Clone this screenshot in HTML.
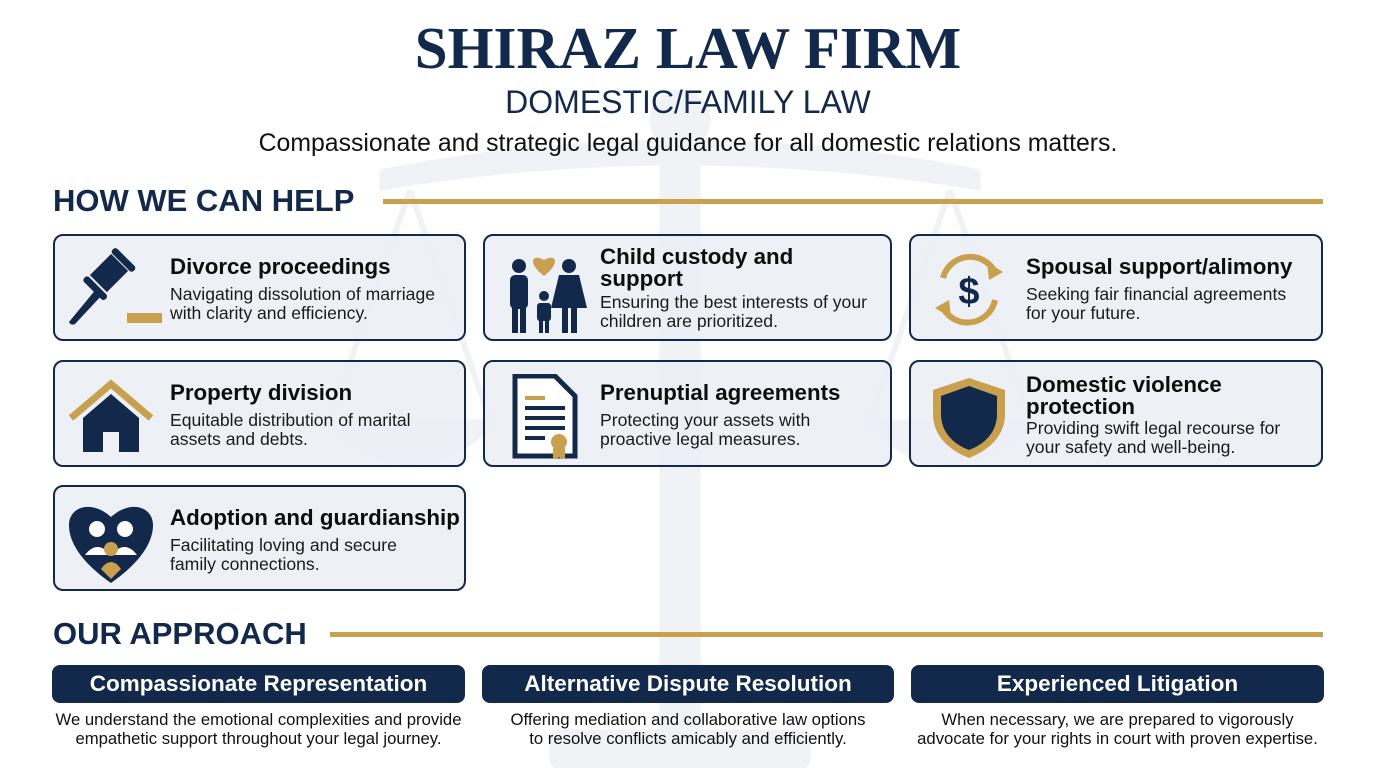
<!DOCTYPE html>
<html><head><meta charset="utf-8"><style>
*{margin:0;padding:0;box-sizing:border-box}
body{width:1376px;height:768px;background:#fff;position:relative;overflow:hidden;font-family:"Liberation Sans",Arial,sans-serif;color:#111}
.abs{position:absolute}
.card{position:absolute;border:2.5px solid #13294b;border-radius:10px;background:rgba(236,239,244,0.92)}
.card h3{position:absolute;left:115px;font-size:22.3px;font-weight:bold;color:#0d0d0d;line-height:22px;white-space:nowrap}
.card p{position:absolute;left:115px;font-size:17.6px;line-height:19px;color:#1a1a1a;white-space:nowrap}
.card svg{position:absolute;left:12px;top:12px}
.hdr{position:absolute;left:53px;font-size:31px;font-weight:bold;color:#13294b}
.line{position:absolute;height:5px;background:#c9a04e}
.bar{position:absolute;height:38px;background:#13294b;border-radius:8px;color:#fff;font-size:22.5px;font-weight:bold;text-align:center;line-height:38px}
.ad{position:absolute;font-size:16.7px;line-height:19px;text-align:center;color:#111;white-space:nowrap}
</style></head><body>
<svg class="abs" style="left:300px;top:90px" width="780" height="678">
<g fill="#f0f2f5" stroke="#f0f2f5">
<rect x="360" y="20" width="40" height="640"/>
<circle cx="380" cy="30" r="30"/>
<path d="M80 80 Q380 20 680 80 L680 100 Q380 50 80 100Z"/>
<path d="M110 100 L30 330 M110 100 L190 330 M650 100 L570 330 M650 100 L730 330" stroke-width="6" fill="none"/>
<path d="M20 330 L200 330 Q110 420 20 330Z"/>
<path d="M560 330 L740 330 Q650 420 560 330Z"/>
<rect x="250" y="640" width="260" height="38" rx="8"/>
</g></svg>
<div class="abs" style="left:0;width:1376px;top:15px;text-align:center;font-family:'Liberation Serif',serif;font-weight:bold;font-size:59px;color:#13294b;line-height:66px">SHIRAZ LAW FIRM</div>
<div class="abs" style="left:0;width:1376px;top:84px;text-align:center;font-size:32px;color:#13294b">DOMESTIC/FAMILY LAW</div>
<div class="abs" style="left:0;width:1376px;top:130px;text-align:center;font-size:24.8px;color:#111">Compassionate and strategic legal guidance for all domestic relations matters.</div>

<div class="hdr" style="top:183px">HOW WE CAN HELP</div>
<div class="line" style="left:383px;width:940px;top:199px"></div>

<div class="card" style="left:53px;top:234px;width:413px;height:107px">
<svg width="95" height="80"><g fill="#13294b"><rect x="30" y="10" width="24" height="30" transform="rotate(45 42 25)"/><rect x="28" y="2" width="30" height="7" rx="3" transform="rotate(45 42 25)"/><rect x="28" y="42" width="30" height="7" rx="3" transform="rotate(45 42 25)"/><path d="M30 40 L36 46 L8 76 Q4 78 2 74 Z"/></g><rect x="60" y="65" width="35" height="10" fill="#c9a04e"/></svg>
<h3 style="top:20px">Divorce proceedings</h3><p style="top:49px">Navigating dissolution of marriage<br>with clarity and efficiency.</p></div>

<div class="card" style="left:483px;top:234px;width:409px;height:107px">
<svg width="95" height="85"><path d="M47 28 C30 15 35 5 47 12 C59 5 64 15 47 28Z" fill="#c9a04e"/><g fill="#13294b"><circle cx="22" cy="18" r="7"/><rect x="13" y="27" width="18" height="34" rx="5"/><rect x="15" y="55" width="6" height="30"/><rect x="23" y="55" width="6" height="30"/><circle cx="72" cy="18" r="7"/><path d="M62 27 H82 L90 60 H54Z"/><rect x="65" y="58" width="6" height="27"/><rect x="74" y="58" width="6" height="27"/><circle cx="47" cy="48" r="5"/><rect x="40" y="55" width="14" height="18" rx="3"/><rect x="42" y="70" width="4" height="15"/><rect x="48" y="70" width="4" height="15"/></g></svg>
<h3 style="top:10px">Child custody and<br>support</h3><p style="top:57px">Ensuring the best interests of your<br>children are prioritized.</p></div>

<div class="card" style="left:909px;top:234px;width:414px;height:107px">
<svg width="95" height="85"><path d="M20 30 A28 28 0 0 1 72 24" stroke="#c9a04e" stroke-width="6" fill="none"/><path d="M72 52 A28 28 0 0 1 20 60" stroke="#c9a04e" stroke-width="6" fill="none"/><path d="M64 14 L80 24 L66 32Z M28 70 L12 60 L26 52Z" fill="#c9a04e"/><text x="46" y="56" text-anchor="middle" font-size="38" font-weight="bold" fill="#13294b" font-family="Liberation Sans">$</text></svg>
<h3 style="top:20px">Spousal support/alimony</h3><p style="top:49px">Seeking fair financial agreements<br>for your future.</p></div>

<div class="card" style="left:53px;top:360px;width:413px;height:107px">
<svg width="95" height="85"><path d="M4 44 L44 10 L84 44" stroke="#c9a04e" stroke-width="7" fill="none"/><path d="M16 44 L44 20 L72 44 V78 H52 V58 H36 V78 H16Z" fill="#13294b"/></svg>
<h3 style="top:20px">Property division</h3><p style="top:49px">Equitable distribution of marital<br>assets and debts.</p></div>

<div class="card" style="left:483px;top:360px;width:409px;height:107px">
<svg width="95" height="85"><path d="M18 2 H58 L78 22 V82 H18Z" fill="#fff" stroke="#13294b" stroke-width="5"/><g fill="#13294b"><rect x="28" y="22" width="20" height="4" fill="#c9a04e"/><rect x="28" y="32" width="40" height="4"/><rect x="28" y="42" width="40" height="4"/><rect x="28" y="52" width="40" height="4"/><rect x="28" y="62" width="20" height="4"/></g><circle cx="62" cy="68" r="8" fill="#c9a04e"/><path d="M56 74 L56 88 L62 83 L68 88 L68 74Z" fill="#c9a04e"/></svg>
<h3 style="top:20px">Prenuptial agreements</h3><p style="top:49px">Protecting your assets with<br>proactive legal measures.</p></div>

<div class="card" style="left:909px;top:360px;width:414px;height:107px">
<svg width="95" height="85"><path d="M46 4 L82 16 V40 C82 62 66 76 46 84 C26 76 10 62 10 40 V16Z" fill="#c9a04e"/><path d="M46 12 L74 22 V40 C74 58 62 70 46 76 C30 70 18 58 18 40 V22Z" fill="#13294b"/></svg>
<h3 style="top:12px">Domestic violence<br>protection</h3><p style="top:57px">Providing swift legal recourse for<br>your safety and well-being.</p></div>

<div class="card" style="left:53px;top:485px;width:413px;height:106px">
<svg width="95" height="85"><path d="M44 84 C10 60 2 40 2 26 C2 8 24 0 44 18 C64 0 86 8 86 26 C86 40 78 60 44 84Z" fill="#13294b"/><circle cx="30" cy="30" r="8" fill="#fff"/><circle cx="58" cy="30" r="8" fill="#fff"/><path d="M18 56 Q30 40 44 56 Q58 40 70 56" fill="#fff"/><circle cx="44" cy="50" r="7" fill="#c9a04e"/><path d="M34 70 Q44 56 54 70 L44 80Z" fill="#c9a04e"/></svg>
<h3 style="top:20px">Adoption and guardianship</h3><p style="top:49px">Facilitating loving and secure<br>family connections.</p></div>

<div class="hdr" style="top:616px">OUR APPROACH</div>
<div class="line" style="left:330px;width:993px;top:632px"></div>

<div class="bar" style="left:52px;top:665px;width:413px">Compassionate Representation</div>
<div class="bar" style="left:482px;top:665px;width:412px">Alternative Dispute Resolution</div>
<div class="bar" style="left:911px;top:665px;width:413px">Experienced Litigation</div>
<div class="ad" style="left:40px;width:437px;top:710px">We understand the emotional complexities and provide<br>empathetic support throughout your legal journey.</div>
<div class="ad" style="left:470px;width:436px;top:710px">Offering mediation and collaborative law options<br>to resolve conflicts amicably and efficiently.</div>
<div class="ad" style="left:895px;width:445px;top:710px">When necessary, we are prepared to vigorously<br>advocate for your rights in court with proven expertise.</div>
</body></html>
